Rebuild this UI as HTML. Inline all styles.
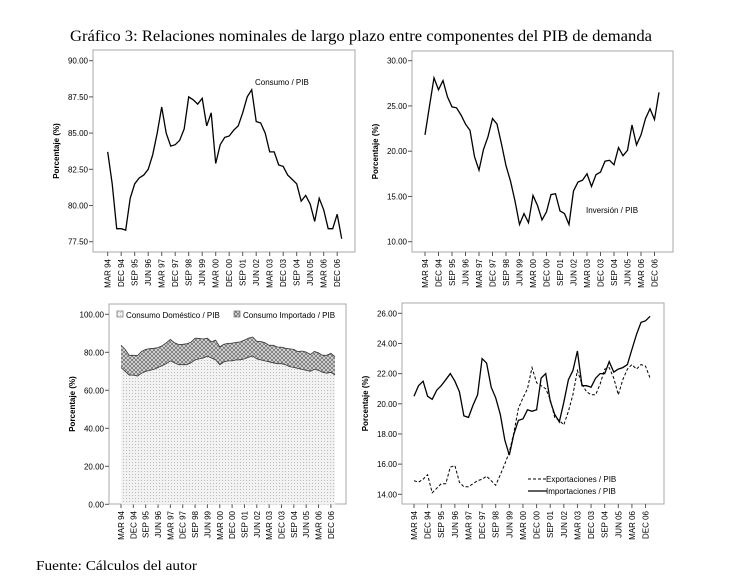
<!DOCTYPE html>
<html><head><meta charset="utf-8"><style>
body{margin:0;background:#fff;width:736px;height:582px;overflow:hidden}
svg{display:block}
</style></head><body>
<svg id="s" width="736" height="582" xmlns="http://www.w3.org/2000/svg" font-family="Liberation Sans, sans-serif">
<defs>
<pattern id="dom" width="3" height="3" patternUnits="userSpaceOnUse"><rect width="3" height="3" fill="#f2f2f2"/><rect width="1" height="1" fill="#bbb"/></pattern>
<pattern id="imp" width="4" height="4" patternUnits="userSpaceOnUse"><rect width="4" height="4" fill="#dadada"/><path d="M0 0L4 4M4 0L0 4" stroke="#666" stroke-width="0.7"/></pattern>
</defs>
<text x="70" y="41" textLength="582" lengthAdjust="spacingAndGlyphs" font-family="Liberation Serif, serif" font-size="15.5">Gráfico 3: Relaciones nominales de largo plazo entre componentes del PIB de demanda</text>
<text x="36" y="570" textLength="161" lengthAdjust="spacingAndGlyphs" font-family="Liberation Serif, serif" font-size="14">Fuente: Cálculos del autor</text>
</svg>
<script>
const S=document.getElementById('s');const NS='http://www.w3.org/2000/svg';
function el(t,a,txt){const e=document.createElementNS(NS,t);for(const k in a)e.setAttribute(k,a[k]);if(txt!==undefined)e.textContent=txt;S.appendChild(e);return e;}
const labs=["MAR 94","DEC 94","SEP 95","JUN 96","MAR 97","DEC 97","SEP 98","JUN 99","MAR 00","DEC 00","SEP 01","JUN 02","MAR 03","DEC 03","SEP 04","JUN 05","MAR 06","DEC 06"];
function panel(p){
 el('rect',{x:p.bx,y:p.by,width:p.bw,height:p.bh,fill:'none',stroke:'#aaa','stroke-width':1});
 const Y=v=>p.y0+(v-p.v0)*(p.y1-p.y0)/(p.v1-p.v0);
 const X=i=>p.x0+i*p.dx;
 p.yt.forEach(v=>{const y=Y(v);el('line',{x1:p.bx-4,x2:p.bx,y1:y,y2:y,stroke:'#555'});
  el('text',{x:p.bx-5,y:y+3,'font-size':8,'text-anchor':'end'},v.toFixed(2));});
 labs.forEach((l,k)=>{const x=X(k*3);el('line',{x1:x,x2:x,y1:p.by+p.bh,y2:p.by+p.bh+4,stroke:'#555'});
  el('text',{x:0,y:0,'font-size':8,'text-anchor':'end',transform:`translate(${x+3},${p.by+p.bh+7}) rotate(-90)`},l);});
 el('text',{x:0,y:0,'font-size':8,'font-weight':'bold','text-anchor':'middle',transform:`translate(${p.bx-34},${p.by+p.bh/2}) rotate(-90)`},'Porcentaje (%)');
 return [X,Y];
}
function pts(d,X,Y){return d.map((v,i)=>X(i).toFixed(1)+','+Y(v).toFixed(1)).join(' ');}
const cons=[83.7,81.5,78.4,78.4,78.3,80.5,81.5,81.9,82.1,82.5,83.5,85.0,86.8,85.0,84.1,84.2,84.5,85.3,87.5,87.3,87.0,87.4,85.5,86.4,82.9,84.2,84.7,84.8,85.2,85.5,86.4,87.5,88.0,85.8,85.7,85.0,83.7,83.7,82.8,82.7,82.1,81.8,81.5,80.3,80.7,80.1,78.9,80.5,79.7,78.4,78.4,79.4,77.7];
const inv=[21.8,25,28.1,26.8,27.8,26,24.9,24.8,24,23,22.3,19.4,17.9,20.2,21.6,23.6,23.0,20.8,18.4,16.7,14.5,11.9,13.1,12.1,15.1,14.0,12.4,13.3,15.2,15.3,13.4,13.1,11.9,15.6,16.6,16.8,17.5,16.1,17.4,17.7,18.9,19.0,18.5,20.4,19.5,20.1,22.9,20.7,21.8,23.6,24.7,23.5,26.5];
const dom=[72,70,68,68,67.5,69,70,70.5,71,72,73,74,75.5,74.5,73.5,73.5,73.5,74.5,76,76.5,77,78,77,76,73.5,75,75.5,75.5,76,76,76.5,77.5,78,76.5,76,75.5,75,74.5,74,74,73.5,72.5,72,71.5,71,70.5,70,71,70.5,69.5,69,69.5,68];
const imp=[20.5,21.2,21.5,20.5,20.3,20.9,21.2,21.6,22.0,21.5,20.8,19.2,19.1,19.9,20.6,23.0,22.7,21.1,20.4,19.3,17.6,16.6,18.0,18.9,19.0,19.6,19.5,19.6,21.7,22.0,20.2,19.3,18.8,20.1,21.6,22.2,23.5,21.2,21.2,21.1,21.7,22.0,22.0,22.8,22.1,22.3,22.4,22.6,23.6,24.6,25.4,25.5,25.8];
const exp=[14.9,14.8,15.0,15.3,14.1,14.4,14.7,14.7,15.8,15.9,14.8,14.5,14.5,14.7,14.9,15.0,15.2,14.9,14.6,15.3,16.0,16.8,18.1,19.7,20.4,21.0,22.4,21.4,21.2,21.0,20.3,19.1,18.9,18.6,19.5,20.6,22.2,21.3,20.8,20.6,20.6,21.3,22.3,22.4,21.7,20.6,21.6,22.3,22.6,22.3,22.6,22.5,21.7];
let [X,Y]=panel({bx:93,by:50,bw:262,bh:202,y0:60.7,y1:241.7,v0:90,v1:77.5,x0:107.7,dx:4.5,yt:[90,87.5,85,82.5,80,77.5]});
el('polyline',{points:pts(cons,X,Y),fill:'none',stroke:'#000','stroke-width':1.3});
el('text',{x:255,y:85,'font-size':8},'Consumo / PIB');
[X,Y]=panel({bx:412,by:51,bw:261,bh:201,y0:60.7,y1:241.7,v0:30,v1:10,x0:425,dx:4.5,yt:[30,25,20,15,10]});
el('polyline',{points:pts(inv,X,Y),fill:'none',stroke:'#000','stroke-width':1.3});
el('text',{x:586,y:213,'font-size':8},'Inversión / PIB');
[X,Y]=panel({bx:109,by:304,bw:237,bh:200,y0:314.3,y1:504.3,v0:100,v1:0,x0:121,dx:4.115,yt:[100,80,60,40,20,0]});
const base=`${X(52).toFixed(1)},${Y(0)} ${X(0)},${Y(0)}`;
el('polygon',{points:pts(cons,X,Y)+' '+base,fill:'url(#imp)'});
el('polygon',{points:pts(dom,X,Y)+' '+base,fill:'url(#dom)'});
el('polyline',{points:pts(dom,X,Y),fill:'none',stroke:'#333','stroke-width':0.8});
el('polyline',{points:pts(cons,X,Y),fill:'none',stroke:'#333','stroke-width':0.8});
el('rect',{x:117,y:311,width:6,height:6,fill:'url(#dom)',stroke:'#555','stroke-width':0.6});
el('text',{x:126,y:318,'font-size':8},'Consumo Doméstico / PIB');
el('rect',{x:234,y:311,width:6,height:6,fill:'url(#imp)',stroke:'#555','stroke-width':0.6});
el('text',{x:243,y:318,'font-size':8},'Consumo Importado / PIB');
[X,Y]=panel({bx:402,by:303,bw:262,bh:201,y0:313.3,y1:494.3,v0:26,v1:14,x0:414,dx:4.54,yt:[26,24,22,20,18,16,14]});
el('polyline',{points:pts(exp,X,Y),fill:'none',stroke:'#000','stroke-width':1,'stroke-dasharray':'3,2'});
el('polyline',{points:pts(imp,X,Y),fill:'none',stroke:'#000','stroke-width':1.3});
el('line',{x1:528,x2:547,y1:479,y2:479,stroke:'#000','stroke-dasharray':'3,2'});
el('text',{x:546,y:482,'font-size':8},'Exportaciones / PIB');
el('line',{x1:528,x2:547,y1:491,y2:491,stroke:'#000','stroke-width':1.3});
el('text',{x:546,y:494,'font-size':8},'Importaciones / PIB');
</script>
</body></html>
